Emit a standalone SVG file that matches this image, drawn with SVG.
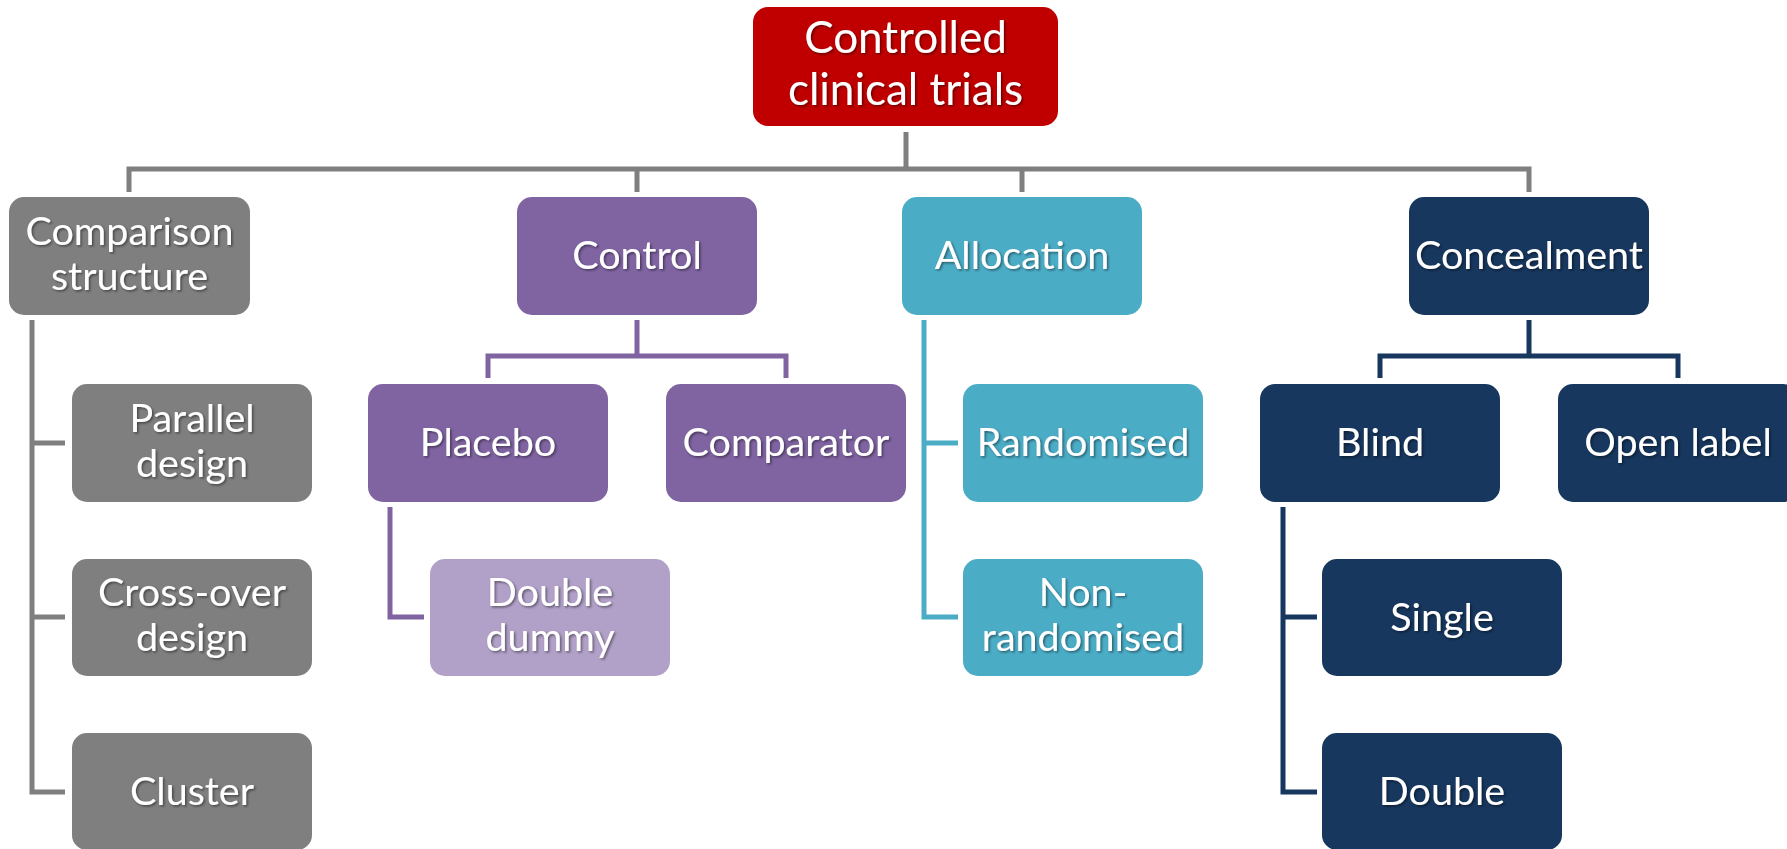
<svg xmlns="http://www.w3.org/2000/svg" width="1787" height="849" viewBox="0 0 1787 849">
<defs>
<style>
.t{font-family:Lato,"Liberation Sans",sans-serif;font-size:39.5px;fill:#fff;text-anchor:middle;filter:url(#sh)}
.root{font-size:44px}
.gray{fill:#7F7F7F}
.purple{fill:#8064A2}
.lpurple{fill:#B1A0C7}
.teal{fill:#4BACC6}
.navy{fill:#17375E}
.red{fill:#C00000}
.c{fill:none;stroke-width:5;stroke-linejoin:miter;stroke-linecap:butt}
.cg{stroke:#7F7F7F}
.cp{stroke:#8064A2}
.ct{stroke:#4BACC6}
.cn{stroke:#17375E}
</style>
<filter id="sh" x="-10%" y="-20%" width="120%" height="150%">
<feDropShadow dx="1.5" dy="1.5" stdDeviation="1" flood-color="#000" flood-opacity="0.45"/>
</filter>
</defs>
<rect width="1787" height="849" fill="#fff"/>
<g id="connectors">
<path class="c cg" d="M906 132 V169"/>
<path class="c cg" d="M129 192 V169 H1529 V192"/>
<path class="c cg" d="M637 169 V192 M1022 169 V192"/>
<path class="c cg" d="M32 320 V792 H65 M32 443 H65 M32 617 H65"/>
<path class="c cp" d="M637 320 V356 M488 378 V356 H786 V378"/>
<path class="c cp" d="M390 507 V617 H424"/>
<path class="c ct" d="M924 320 V617 H958 M924 443 H958"/>
<path class="c cn" d="M1529 320 V356 M1380 378 V356 H1678 V378"/>
<path class="c cn" d="M1283 507 V792 H1317 M1283 617 H1317"/>
</g>
<g id="root">
<rect class="red" x="753" y="7" width="305" height="119" rx="15"/>
<text class="t root" x="905.5" y="53">Controlled</text>
<text class="t root" x="905.5" y="105">clinical trials</text>
</g>
<g id="comparison">
<rect class="gray" x="9" y="197" width="241" height="118" rx="15"/>
<text class="t" x="129.5" y="245">Comparison</text>
<text class="t" x="129.5" y="290">structure</text>
</g>
<g id="control">
<rect class="purple" x="517" y="197" width="240" height="118" rx="15"/>
<text class="t" x="637" y="269">Control</text>
</g>
<g id="allocation">
<rect class="teal" x="902" y="197" width="240" height="118" rx="15"/>
<text class="t" x="1022" y="269">Allocation</text>
</g>
<g id="concealment">
<rect class="navy" x="1409" y="197" width="240" height="118" rx="15"/>
<text class="t" x="1529" y="269">Concealment</text>
</g>
<g id="parallel">
<rect class="gray" x="72" y="384" width="240" height="118" rx="15"/>
<text class="t" x="192" y="432">Parallel</text>
<text class="t" x="192" y="477">design</text>
</g>
<g id="placebo">
<rect class="purple" x="368" y="384" width="240" height="118" rx="15"/>
<text class="t" x="488" y="456">Placebo</text>
</g>
<g id="comparator">
<rect class="purple" x="666" y="384" width="240" height="118" rx="15"/>
<text class="t" x="786" y="456">Comparator</text>
</g>
<g id="randomised">
<rect class="teal" x="963" y="384" width="240" height="118" rx="15"/>
<text class="t" x="1083" y="456">Randomised</text>
</g>
<g id="blind">
<rect class="navy" x="1260" y="384" width="240" height="118" rx="15"/>
<text class="t" x="1380" y="456">Blind</text>
</g>
<g id="openlabel">
<rect class="navy" x="1558" y="384" width="240" height="118" rx="15"/>
<text class="t" x="1678" y="456">Open label</text>
</g>
<g id="crossover">
<rect class="gray" x="72" y="559" width="240" height="117" rx="15"/>
<text class="t" x="192" y="606">Cross-over</text>
<text class="t" x="192" y="651">design</text>
</g>
<g id="doubledummy">
<rect class="lpurple" x="430" y="559" width="240" height="117" rx="15"/>
<text class="t" x="550" y="606">Double</text>
<text class="t" x="550" y="651">dummy</text>
</g>
<g id="nonrandomised">
<rect class="teal" x="963" y="559" width="240" height="117" rx="15"/>
<text class="t" x="1083" y="606">Non-</text>
<text class="t" x="1083" y="651">randomised</text>
</g>
<g id="single">
<rect class="navy" x="1322" y="559" width="240" height="117" rx="15"/>
<text class="t" x="1442" y="631">Single</text>
</g>
<g id="cluster">
<rect class="gray" x="72" y="733" width="240" height="117" rx="15"/>
<text class="t" x="192" y="805">Cluster</text>
</g>
<g id="double">
<rect class="navy" x="1322" y="733" width="240" height="117" rx="15"/>
<text class="t" x="1442" y="805">Double</text>
</g>
</svg>
